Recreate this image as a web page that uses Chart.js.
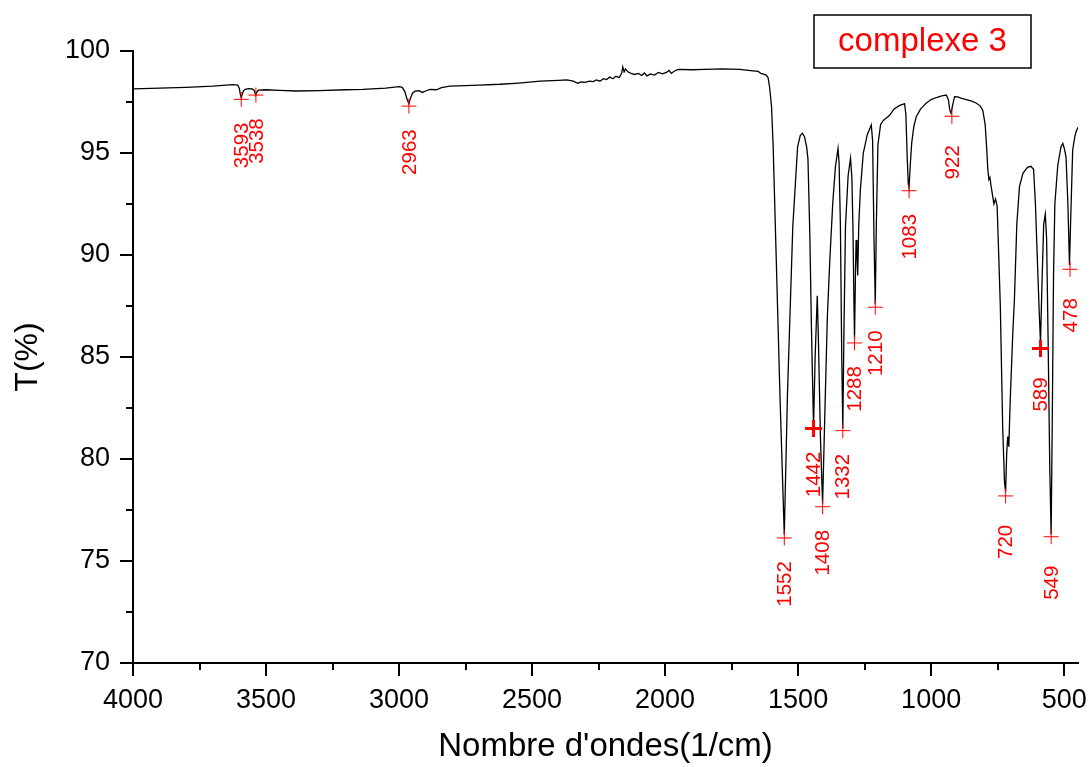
<!DOCTYPE html>
<html>
<head>
<meta charset="utf-8">
<title>complexe 3</title>
<script src="https://cdn.jsdelivr.net/npm/chart.js@4.4.1/dist/chart.umd.min.js"></script>
<style>
  html, body { margin: 0; padding: 0; background: #fff; }
  #wrap { width: 1090px; height: 767px; }
</style>
</head>
<body>
<div id="wrap"><canvas id="irChart" width="1090" height="767"></canvas></div>
<script>
// IR spectrum (wavenumber in 1/cm, transmittance in %)
const wavenumbers = [
  4000, 3900, 3800, 3700, 3625, 3606, 3600, 3597, 3593, 3590, 3585, 3578, 3565, 3552, 3545, 3541, 3538, 3535, 3528,
  3500, 3450, 3385, 3300, 3200, 3136, 3050, 3000, 2988, 2978, 2970, 2963, 2958, 2950, 2940, 2925, 2912, 2900,
  2884, 2860, 2840, 2810, 2750, 2700, 2620, 2550, 2470, 2400, 2370, 2345, 2328, 2315, 2300, 2285, 2270, 2258,
  2245, 2232, 2220, 2208, 2196, 2185, 2172, 2163, 2159, 2154, 2149, 2140, 2128, 2115, 2100, 2088, 2078, 2068,
  2055, 2040, 2025, 2010, 1995, 1985, 1977, 1965, 1950, 1900, 1850, 1785, 1720, 1670, 1650, 1640, 1630, 1620,
  1613, 1607, 1600, 1594, 1582, 1568, 1552, 1540, 1520, 1502, 1492, 1484, 1476, 1468, 1463, 1456, 1450, 1446,
  1442, 1436, 1428, 1424, 1416, 1408, 1400, 1390, 1381, 1370, 1360, 1350, 1346, 1341, 1336, 1332, 1328, 1322,
  1312, 1303, 1298, 1294, 1290, 1288, 1284, 1282, 1279, 1276, 1272, 1266, 1255, 1240, 1225, 1220, 1215, 1210,
  1206, 1200, 1190, 1180, 1165, 1156, 1140, 1120, 1100, 1095, 1090, 1086, 1083, 1079, 1073, 1065, 1056, 1040,
  1020, 1000, 980, 960, 943, 935, 930, 925, 920, 912, 900, 885, 868, 850, 831, 815, 806, 797, 792, 787, 783,
  779, 775, 770, 764, 758, 752, 746, 740, 731, 724, 720, 716, 712, 708, 703, 693, 687, 678, 668, 655, 638, 625,
  615, 608, 600, 594, 589, 584, 577, 571, 566, 560, 554, 549, 545, 540, 535, 524, 512, 505, 499, 493, 486, 480,
  476, 468, 460, 455, 448
];
const transmittance = [
  98.14, 98.18, 98.22, 98.28, 98.35, 98.33, 98.15, 97.9, 97.7, 97.85, 98.05, 98.12, 98.16, 98.14, 98.08, 97.92, 97.88, 97.98, 98.08,
  98.1, 98.07, 98.04, 98.06, 98.1, 98.12, 98.18, 98.25, 98.22, 98.0, 97.65, 97.42, 97.65, 97.92, 98.03, 98.05, 97.97, 98.04,
  98.12, 98.1, 98.2, 98.28, 98.3, 98.33, 98.37, 98.43, 98.52, 98.56, 98.58, 98.52, 98.42, 98.48, 98.46, 98.52, 98.5, 98.58,
  98.52, 98.64, 98.6, 98.72, 98.64, 98.76, 98.7, 98.92, 99.22, 98.98, 99.12, 98.98, 98.9, 98.85, 98.9, 98.8, 98.92, 98.78,
  98.88, 98.82, 98.95, 98.88, 98.95, 99.05, 98.9, 99.02, 99.1, 99.08, 99.1, 99.12, 99.1, 99.03, 99.0, 98.9, 98.87, 98.82,
  98.7, 98.2, 97.3, 95.4, 89.7, 83.0, 76.3, 83.2, 91.4, 95.3, 95.85, 95.96, 95.8, 95.3, 94.7, 91.0, 86.5, 84.0,
  81.6, 85.0, 88.0, 86.0, 81.0, 77.8, 82.0, 87.0, 89.7, 92.5, 94.3, 95.23, 94.5, 91.4, 85.0, 81.5, 86.0, 91.4,
  93.9, 94.74, 93.8, 91.4, 87.5, 85.9, 89.5, 90.74, 90.0, 89.0, 91.5, 93.2, 95.0, 95.9, 96.37, 95.6, 91.0, 87.6,
  91.5, 95.4, 96.4, 96.6, 96.75, 96.85, 97.15, 97.32, 97.42, 96.9, 94.8, 93.5, 93.3, 94.3, 95.5, 96.3, 96.78, 97.15,
  97.43, 97.62, 97.72, 97.8, 97.84, 97.6, 97.1, 96.95, 97.3, 97.76, 97.75, 97.68, 97.62, 97.55, 97.45, 97.3, 97.1, 96.4, 95.4, 94.2, 93.7,
  93.8, 93.4, 93.0, 92.5, 92.75, 92.4, 90.0, 87.5, 81.5, 78.8, 78.4, 80.3, 81.1, 80.6, 82.8, 86.2, 87.8, 91.5, 93.35, 94.0, 94.3, 94.35,
  94.2, 92.5, 89.5, 87.3, 85.7, 88.3, 91.5, 92.0, 90.8, 85.5, 79.5, 76.3, 81.5, 89.0, 92.5, 94.4, 95.3, 95.47, 95.2, 94.8, 92.5, 89.5,
  91.5, 95.15, 95.8, 96.05, 96.26
];

// picked peaks (red crosses + labels)
const peakWavenumbers = [3593, 3538, 2963, 1552, 1442, 1408, 1332, 1288, 1210, 1083, 922, 720, 589, 549, 478];
const peakTransmittance = [97.63, 97.84, 97.3, 76.13, 81.5, 77.66, 81.39, 85.69, 87.44, 93.15, 96.8, 78.19, 85.42, 76.19, 89.3];
const boldPeaks = [1442, 589];

// axis ticks
const xTickValues = [500, 1000, 1500, 2000, 2500, 3000, 3500, 4000];
const xMinorValues = [750, 1250, 1750, 2250, 2750, 3250, 3750];
const yTickValues = [70, 75, 80, 85, 90, 95, 100];
const yMinorValues = [72.5, 77.5, 82.5, 87.5, 92.5, 97.5];

const FONT = "'Liberation Sans', Arial, sans-serif";

// small minor ticks, drawn outward like the major ones
const minorTicks = {
  id: 'minorTicks',
  afterDraw(chart) {
    const ctx = chart.ctx;
    const x = chart.scales.x, y = chart.scales.y;
    const area = chart.chartArea;
    ctx.save();
    ctx.strokeStyle = '#000';
    ctx.lineWidth = 2;
    ctx.beginPath();
    xMinorValues.forEach(v => {
      const px = Math.round(x.getPixelForValue(v));
      ctx.moveTo(px, area.bottom);
      ctx.lineTo(px, area.bottom + 7);
    });
    yMinorValues.forEach(v => {
      const py = Math.round(y.getPixelForValue(v));
      ctx.moveTo(area.left, py);
      ctx.lineTo(area.left - 7, py);
    });
    ctx.stroke();
    ctx.restore();
  }
};

// rotated red wavenumber labels under each cross
const peakText = {
  id: 'peakText',
  afterDatasetsDraw(chart) {
    const ctx = chart.ctx;
    const meta = chart.getDatasetMeta(1);
    ctx.save();
    ctx.fillStyle = '#ff0000';
    ctx.font = '20.5px ' + FONT;
    ctx.textAlign = 'center';
    ctx.textBaseline = 'middle';
    meta.data.forEach((pt, i) => {
      ctx.save();
      ctx.translate(pt.x, pt.y + 46);
      ctx.rotate(-Math.PI / 2);
      ctx.fillText(String(peakWavenumbers[i]), 0, 1);
      ctx.restore();
    });
    ctx.restore();
  }
};

// boxed sample name, top right
const nameBox = {
  id: 'nameBox',
  afterDraw(chart) {
    const ctx = chart.ctx;
    ctx.save();
    ctx.fillStyle = '#fff';
    ctx.fillRect(814, 15, 217, 53);
    ctx.strokeStyle = '#000';
    ctx.lineWidth = 1.5;
    ctx.strokeRect(814, 15, 217, 53);
    ctx.fillStyle = '#ff0000';
    ctx.font = '33px ' + FONT;
    ctx.textAlign = 'center';
    ctx.textBaseline = 'middle';
    ctx.fillText('complexe 3', 922.5, 42);
    ctx.restore();
  }
};

document.addEventListener('DOMContentLoaded', function () {
  const ctx = document.getElementById('irChart').getContext('2d');

  const spectrum = wavenumbers.map((w, i) => ({ x: w, y: transmittance[i] }));
  const peaks = peakWavenumbers.map((w, i) => ({ x: w, y: peakTransmittance[i] }));

  new Chart(ctx, {
    type: 'line',
    data: {
      datasets: [{
        label: 'complexe 3',
        data: spectrum,
        borderColor: '#000',
        borderWidth: 1.3,
        pointRadius: 0,
        tension: 0,
        fill: false,
        order: 1
      }, {
        label: 'peaks',
        data: peaks,
        showLine: false,
        pointStyle: 'cross',
        pointRadius: peakWavenumbers.map(w => boldPeaks.includes(w) ? 8.5 : 7.5),
        pointBorderWidth: peakWavenumbers.map(w => boldPeaks.includes(w) ? 3 : 1),
        borderColor: '#ff0000',
        pointBorderColor: '#ff0000',
        order: 0
      }]
    },
    options: {
      responsive: false,
      animation: false,
      devicePixelRatio: 1,
      layout: { padding: { top: 51, right: 12, left: 0, bottom: 0 } },
      plugins: {
        legend: { display: false },
        tooltip: { enabled: false }
      },
      scales: {
        x: {
          type: 'linear',
          position: 'bottom',
          reverse: true,
          min: 448,
          max: 4000,
          afterBuildTicks: s => { s.ticks = xTickValues.map(v => ({ value: v })); },
          afterFit: s => { s.height = 104; },
          ticks: {
            color: '#000',
            font: { family: FONT, size: 27 },
            padding: 8,
            maxRotation: 0,
            autoSkip: false,
            callback: v => String(v)
          },
          grid: {
            display: true,
            drawOnChartArea: false,
            drawTicks: true,
            tickLength: 13,
            color: '#000',
            lineWidth: 2
          },
          border: { display: true, color: '#000', width: 2 },
          title: {
            display: true,
            text: "Nombre d'ondes(1/cm)",
            color: '#000',
            font: { family: FONT, size: 33 },
            padding: { top: 0, bottom: 0 }
          }
        },
        y: {
          type: 'linear',
          min: 70,
          max: 100,
          afterBuildTicks: s => { s.ticks = yTickValues.map(v => ({ value: v })); },
          afterFit: s => { s.width = 133; },
          ticks: {
            color: '#000',
            font: { family: FONT, size: 27 },
            padding: 10,
            callback: v => String(v)
          },
          grid: {
            display: true,
            drawOnChartArea: false,
            drawTicks: true,
            tickLength: 13,
            color: '#000',
            lineWidth: 2
          },
          border: { display: true, color: '#000', width: 2 },
          title: {
            display: true,
            text: 'T(%)',
            color: '#000',
            font: { family: FONT, size: 32 },
            padding: { top: 9, bottom: 0 }
          }
        }
      }
    },
    plugins: [minorTicks, peakText, nameBox]
  });
});
</script>
</body>
</html>
